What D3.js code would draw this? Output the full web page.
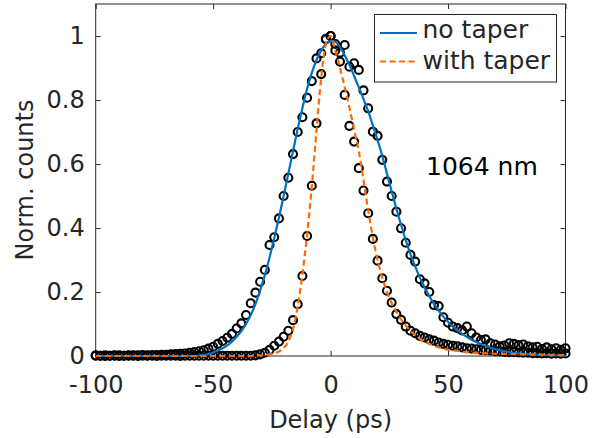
<!DOCTYPE html>
<html><head><meta charset="utf-8">
<script src="https://cdn.jsdelivr.net/npm/d3@7"></script>
<style>body{margin:0;background:#fff}svg{display:block}text{font-family:"DejaVu Sans",sans-serif}</style>
</head><body><svg id="c" width="595" height="438"></svg>
<script>
const delay = [-100,-98,-96,-94,-92,-90,-88,-86,-84,-82,-80,-78,-76,-74,-72,-70,-68,-66,-64,-62,-60,-58,-56,-54,-52,-50,-48,-46,-44,-42,-40,-38,-36,-34,-32,-30,-28,-26,-24,-22,-20,-18,-16,-14,-12,-10,-8,-6,-4,-2,0,2,4,6,8,10,12,14,16,18,20,22,24,26,28,30,32,34,36,38,40,42,44,46,48,50,52,54,56,58,60,62,64,66,68,70,72,74,76,78,80,82,84,86,88,90,92,94,96,98,100];
const noTaper = [0.002,0.001,0.002,0.001,0.002,0.002,0.001,0.002,0.002,0.002,0.003,0.002,0.003,0.003,0.004,0.004,0.005,0.006,0.007,0.008,0.010,0.012,0.015,0.018,0.023,0.029,0.038,0.047,0.057,0.069,0.086,0.102,0.128,0.165,0.198,0.232,0.269,0.347,0.371,0.43,0.5,0.557,0.631,0.70,0.746,0.807,0.859,0.93,0.946,0.991,1.0,0.975,0.948,0.972,0.904,0.915,0.894,0.83,0.774,0.701,0.688,0.613,0.545,0.5,0.451,0.399,0.354,0.316,0.295,0.24,0.227,0.2,0.159,0.156,0.121,0.104,0.092,0.087,0.08,0.092,0.071,0.058,0.05,0.052,0.04,0.036,0.03,0.033,0.04,0.038,0.034,0.036,0.03,0.027,0.029,0.022,0.027,0.021,0.024,0.019,0.024];
const withTaper = [0.001,0.001,0.0,0.001,0.001,0.0,0.001,0.001,0.001,0.0,0.001,0.001,0.001,0.0,0.001,0.001,0.001,0.001,0.0,0.001,0.001,0.001,0.001,0.001,0.001,0.001,0.001,0.001,0.001,0.001,0.001,0.001,0.001,0.001,0.002,0.005,0.01,0.019,0.032,0.045,0.06,0.079,0.112,0.162,0.25,0.375,0.532,0.727,0.881,0.99,1.0,0.955,0.92,0.816,0.719,0.67,0.587,0.517,0.446,0.366,0.298,0.243,0.204,0.167,0.131,0.113,0.092,0.079,0.071,0.063,0.058,0.052,0.048,0.042,0.038,0.035,0.032,0.03,0.027,0.024,0.023,0.021,0.019,0.018,0.017,0.015,0.014,0.013,0.012,0.012,0.011,0.01,0.01,0.009,0.009,0.008,0.009,0.007,0.008,0.007,0.008];
const noTaperFit = [0,0,0,0,0,0,0,0,0,0,0,0,0,0,0,0,0,0,0,0,0,0,0.001,0.003,0.006,0.011,0.017,0.024,0.033,0.045,0.06,0.078,0.1,0.128,0.162,0.205,0.252,0.308,0.368,0.432,0.5,0.57,0.64,0.71,0.775,0.835,0.885,0.925,0.955,0.975,0.985,0.982,0.965,0.94,0.91,0.875,0.84,0.803,0.765,0.72,0.675,0.625,0.57,0.515,0.46,0.41,0.362,0.318,0.28,0.245,0.215,0.187,0.163,0.142,0.123,0.107,0.093,0.08,0.069,0.06,0.051,0.044,0.037,0.031,0.026,0.022,0.018,0.015,0.012,0.01,0.008,0.007,0.006,0.005,0.004,0.003,0.003,0.002,0.002,0.002,0.001];
const withTaperFit = [0,0,0,0,0,0,0,0,0,0,0,0,0,0,0,0,0,0,0,0,0,0,0,0,0,0,0,0,0,0,0,0,0,0,0.001,0.002,0.003,0.005,0.008,0.014,0.025,0.045,0.085,0.155,0.255,0.38,0.53,0.705,0.87,0.975,1.0,0.955,0.9,0.84,0.776,0.708,0.64,0.55,0.455,0.37,0.3,0.245,0.2,0.165,0.138,0.114,0.095,0.079,0.065,0.054,0.045,0.038,0.032,0.027,0.023,0.02,0.018,0.016,0.014,0.012,0.011,0.01,0.009,0.0085,0.008,0.007,0.007,0.0065,0.006,0.006,0.0055,0.005,0.005,0.0045,0.0045,0.004,0.004,0.0035,0.0035,0.003,0.003];
const xTicks = [-100,-50,0,50,100];
const yTicks = [0,0.2,0.4,0.6,0.8,1];
const seriesNames = ["no taper","with taper"];
const xLabel = "Delay (ps)", yLabel = "Norm. counts", note = "1064 nm";

const svg = d3.select("#c");
const L = 95.7, R = 565.5, T = 4, B = 356;
const x = d3.scaleLinear().domain([-100,100]).range([L,R]);
const y = d3.scaleLinear().domain([0,1.1]).range([B,T]);
const axisCol = "#262626";
const blue = "#0072BD", orange = "#FF6A00";

// frame
svg.append("rect").attr("x",L).attr("y",T).attr("width",R-L).attr("height",B-T)
  .attr("fill","none").attr("stroke",axisCol).attr("stroke-width",1);

// axes
const fmt = d => d===0?"0":(d===1?"1":String(d));
const gx = svg.append("g").attr("transform",`translate(0,${B})`)
  .call(d3.axisBottom(x).tickValues(xTicks).tickSizeInner(-5).tickSizeOuter(0).tickPadding(12).tickFormat(d=>String(d)));
const gxt = svg.append("g").attr("transform",`translate(0,${T})`)
  .call(d3.axisTop(x).tickValues(xTicks).tickSizeInner(-5).tickSizeOuter(0).tickFormat(""));
const gy = svg.append("g").attr("transform",`translate(${L},0)`)
  .call(d3.axisLeft(y).tickValues(yTicks).tickSizeInner(-5).tickSizeOuter(0).tickPadding(11).tickFormat(fmt));
const gyr = svg.append("g").attr("transform",`translate(${R},0)`)
  .call(d3.axisRight(y).tickValues(yTicks).tickSizeInner(-5).tickSizeOuter(0).tickFormat(""));
[gx,gxt,gy,gyr].forEach(g=>{
  g.select(".domain").remove();
  g.selectAll("line").attr("stroke",axisCol);
  g.selectAll("text").attr("fill",axisCol).attr("font-size",24).attr("font-family","DejaVu Sans");
});
gx.selectAll("text").attr("dy",null).attr("y",null).attr("transform",null)
  .attr("y",37);

// data points
const pts = delay.map((d,i)=>({x:d,a:noTaper[i],b:withTaper[i]}));
const gp = svg.append("g");
gp.selectAll("circle.a").data(pts).join("circle").attr("class","a")
  .attr("cx",d=>x(d.x)).attr("cy",d=>y(d.a)).attr("r",4)
  .attr("fill","none").attr("stroke","#000").attr("stroke-width",2.1);
gp.selectAll("circle.b").data(pts).join("circle").attr("class","b")
  .attr("cx",d=>x(d.x)).attr("cy",d=>y(d.b)).attr("r",4)
  .attr("fill","none").attr("stroke","#000").attr("stroke-width",2.1);

// fits
const line = d3.line().x(d=>x(d[0])).y(d=>y(d[1])).curve(d3.curveMonotoneX);
svg.append("path").datum(delay.map((d,i)=>[d,noTaperFit[i]]))
  .attr("d",line).attr("fill","none").attr("stroke",blue).attr("stroke-width",2.2);
svg.append("path").datum(delay.map((d,i)=>[d,withTaperFit[i]]))
  .attr("d",line).attr("fill","none").attr("stroke",orange).attr("stroke-width",2.2)
  .attr("stroke-dasharray","6,3.5");

// labels
svg.append("text").attr("x",(L+R)/2).attr("y",428).attr("text-anchor","middle")
  .attr("font-size",24).attr("fill",axisCol).text(xLabel);
svg.append("text").attr("transform",`translate(33,${(T+B)/2}) rotate(-90)`)
  .attr("text-anchor","middle").attr("font-size",24).attr("fill",axisCol).text(yLabel);
svg.append("text").attr("x",426).attr("y",175).attr("font-size",25).attr("fill","#000").text(note);

// legend
const lg = svg.append("g");
lg.append("rect").attr("x",374.5).attr("y",14.5).attr("width",182).attr("height",67.5)
  .attr("fill","#fff").attr("stroke",axisCol).attr("stroke-width",1);
const ly = [33, 61.5], lt = [37.5, 68.5];
lg.append("line").attr("x1",380).attr("x2",417).attr("y1",ly[0]).attr("y2",ly[0])
  .attr("stroke",blue).attr("stroke-width",2.2);
lg.append("line").attr("x1",380).attr("x2",417).attr("y1",ly[1]).attr("y2",ly[1])
  .attr("stroke",orange).attr("stroke-width",2.2).attr("stroke-dasharray","6,3.5");
seriesNames.forEach((s,i)=>lg.append("text").attr("x",422.5).attr("y",lt[i])
  .attr("font-size",25).attr("fill",axisCol).text(s));
</script></body></html>
